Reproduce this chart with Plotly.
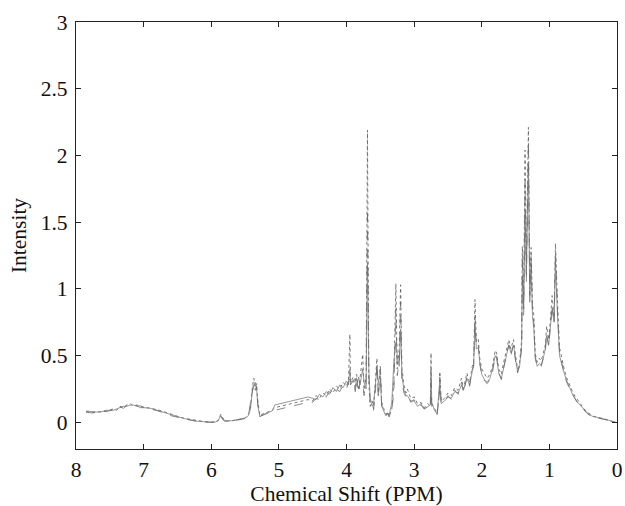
import plotly.graph_objects as go

ppm = [
    7.85, 7.75, 7.65, 7.55, 7.45, 7.40, 7.35, 7.30, 7.25, 7.20,
    7.15, 7.10, 7.05, 7.00, 6.90, 6.80, 6.70, 6.60, 6.50, 6.40,
    6.30, 6.20, 6.10, 6.00, 5.95, 5.90, 5.86, 5.83, 5.80, 5.70,
    5.60, 5.50, 5.45, 5.42, 5.39, 5.37, 5.35, 5.33, 5.31, 5.28,
    5.25, 5.20, 5.15, 5.10, 5.06, 4.57, 4.50, 4.45, 4.40, 4.35,
    4.30, 4.25, 4.20, 4.15, 4.10, 4.05, 4.00, 3.97, 3.95, 3.94,
    3.90, 3.87, 3.85, 3.82, 3.80, 3.76, 3.74, 3.71, 3.69, 3.67,
    3.65, 3.62, 3.60, 3.57, 3.55, 3.53, 3.50, 3.48, 3.45, 3.42,
    3.39, 3.37, 3.33, 3.30, 3.27, 3.25, 3.22, 3.20, 3.18, 3.15,
    3.12, 3.10, 3.05, 3.00, 2.95, 2.90, 2.85, 2.80, 2.76, 2.75,
    2.74, 2.70, 2.66, 2.63, 2.62, 2.60, 2.55, 2.50, 2.45, 2.40,
    2.35, 2.30, 2.27, 2.22, 2.18, 2.14, 2.12, 2.10, 2.08, 2.05,
    2.03, 2.00, 1.96, 1.92, 1.88, 1.84, 1.80, 1.78, 1.75, 1.71,
    1.68, 1.63, 1.60, 1.57, 1.53, 1.50, 1.47, 1.44, 1.41, 1.40,
    1.38, 1.36, 1.34, 1.31, 1.29, 1.27, 1.25, 1.23, 1.21, 1.18,
    1.15, 1.12, 1.09, 1.06, 1.04, 1.01, 0.98, 0.96, 0.93, 0.91,
    0.88, 0.85, 0.80, 0.75, 0.70, 0.65, 0.60, 0.55, 0.50, 0.45,
    0.40, 0.35, 0.30, 0.25, 0.20, 0.15, 0.10, 0.05, 0.02,
]

spectrum_1 = [
    0.08, 0.075, 0.08, 0.085, 0.10, 0.09, 0.12, 0.11, 0.13, 0.14,
    0.12, 0.13, 0.12, 0.115, 0.11, 0.095, 0.08, 0.06, 0.045, 0.03,
    0.02, 0.01, 0.005, 0.0, 0.003, 0.01, 0.06, 0.03, 0.01, 0.01,
    0.02, 0.03, 0.06, 0.12, 0.27, 0.33, 0.26, 0.29, 0.15, 0.05,
    0.06, 0.07, 0.08, 0.09, 0.11, 0.17, 0.16, 0.20, 0.18, 0.22,
    0.20, 0.25, 0.22, 0.27, 0.25, 0.30, 0.27, 0.32, 0.66, 0.30,
    0.34, 0.25, 0.36, 0.24, 0.33, 0.51, 0.22, 0.35, 2.19, 0.30,
    0.12, 0.16, 0.10, 0.35, 0.48, 0.20, 0.42, 0.15, 0.10, 0.06,
    0.08, 0.04, 0.10, 0.30, 1.04, 0.40, 0.55, 1.03, 0.40, 0.28,
    0.22, 0.25, 0.18, 0.19, 0.14, 0.15, 0.11, 0.14, 0.12, 0.52,
    0.14, 0.10, 0.07, 0.20, 0.38, 0.16, 0.18, 0.22, 0.20, 0.26,
    0.24, 0.33, 0.25, 0.37, 0.30, 0.42, 0.45, 0.92, 0.60, 0.62,
    0.48, 0.40, 0.36, 0.33, 0.36, 0.42, 0.54, 0.52, 0.40, 0.36,
    0.44, 0.55, 0.62, 0.55, 0.62, 0.50, 0.40, 0.45, 0.62, 1.32,
    0.90, 2.04, 1.20, 2.21, 1.00, 1.31, 0.88, 0.80, 0.52, 0.45,
    0.48, 0.46, 0.52, 0.58, 0.72, 0.62, 0.80, 0.95, 0.80, 1.34,
    0.90, 0.56, 0.44, 0.34, 0.28, 0.22, 0.18, 0.14, 0.11, 0.08,
    0.06, 0.045, 0.04, 0.035, 0.03, 0.02, 0.01, 0.005, 0.0,
]

spectrum_2 = [
    0.085, 0.08, 0.075, 0.09, 0.09, 0.10, 0.11, 0.12, 0.12, 0.13,
    0.13, 0.12, 0.125, 0.11, 0.105, 0.09, 0.075, 0.055, 0.04, 0.028,
    0.018, 0.008, 0.004, 0.002, 0.0, 0.012, 0.05, 0.025, 0.012, 0.012,
    0.022, 0.032, 0.05, 0.10, 0.24, 0.28, 0.30, 0.25, 0.12, 0.04,
    0.055, 0.065, 0.075, 0.085, 0.13, 0.19, 0.18, 0.17, 0.21, 0.19,
    0.23, 0.21, 0.26, 0.23, 0.28, 0.26, 0.31, 0.28, 0.40, 0.31,
    0.30, 0.33, 0.27, 0.34, 0.28, 0.40, 0.30, 0.25, 1.20, 0.40,
    0.18, 0.12, 0.14, 0.28, 0.40, 0.30, 0.35, 0.12, 0.08, 0.05,
    0.06, 0.05, 0.15, 0.45, 0.60, 0.50, 0.42, 0.70, 0.35, 0.24,
    0.20, 0.20, 0.16, 0.16, 0.12, 0.14, 0.10, 0.12, 0.13, 0.40,
    0.15, 0.09, 0.06, 0.25, 0.30, 0.14, 0.16, 0.19, 0.18, 0.23,
    0.22, 0.28, 0.24, 0.33, 0.28, 0.38, 0.42, 0.75, 0.55, 0.56,
    0.45, 0.36, 0.32, 0.30, 0.33, 0.40, 0.50, 0.48, 0.37, 0.33,
    0.40, 0.52, 0.58, 0.52, 0.58, 0.47, 0.38, 0.42, 0.58, 1.10,
    0.85, 1.60, 1.10, 1.95, 0.90, 1.20, 0.80, 0.70, 0.50, 0.42,
    0.44, 0.43, 0.48, 0.55, 0.65, 0.58, 0.72, 0.85, 0.75, 1.20,
    0.80, 0.50, 0.40, 0.32, 0.26, 0.20, 0.16, 0.13, 0.10, 0.075,
    0.055, 0.042, 0.038, 0.032, 0.028, 0.018, 0.012, 0.006, 0.002,
]

spectrum_3 = [
    0.075, 0.07, 0.085, 0.08, 0.095, 0.085, 0.115, 0.105, 0.125, 0.12,
    0.115, 0.125, 0.11, 0.11, 0.10, 0.088, 0.07, 0.05, 0.038, 0.025,
    0.015, 0.006, 0.002, 0.0, 0.004, 0.008, 0.045, 0.02, 0.008, 0.008,
    0.018, 0.028, 0.055, 0.14, 0.22, 0.30, 0.24, 0.27, 0.13, 0.045,
    0.05, 0.06, 0.07, 0.08, 0.09, 0.15, 0.15, 0.18, 0.17, 0.20,
    0.19, 0.23, 0.21, 0.25, 0.23, 0.28, 0.25, 0.30, 0.35, 0.28,
    0.32, 0.23, 0.33, 0.22, 0.31, 0.30, 0.20, 0.30, 1.60, 0.35,
    0.15, 0.14, 0.09, 0.25, 0.45, 0.18, 0.40, 0.13, 0.09, 0.05,
    0.07, 0.04, 0.09, 0.22, 0.85, 0.35, 0.45, 0.90, 0.30, 0.22,
    0.19, 0.21, 0.15, 0.17, 0.12, 0.13, 0.10, 0.12, 0.11, 0.30,
    0.12, 0.08, 0.06, 0.18, 0.34, 0.14, 0.15, 0.20, 0.17, 0.24,
    0.21, 0.30, 0.22, 0.34, 0.27, 0.40, 0.42, 0.80, 0.56, 0.58,
    0.44, 0.36, 0.31, 0.29, 0.32, 0.38, 0.50, 0.50, 0.37, 0.32,
    0.40, 0.50, 0.58, 0.50, 0.58, 0.46, 0.37, 0.43, 0.55, 1.25,
    0.80, 1.80, 1.05, 2.10, 0.95, 1.25, 0.82, 0.75, 0.48, 0.42,
    0.44, 0.42, 0.48, 0.54, 0.66, 0.57, 0.75, 0.88, 0.74, 1.28,
    0.85, 0.52, 0.41, 0.31, 0.25, 0.20, 0.16, 0.12, 0.10, 0.07,
    0.05, 0.04, 0.035, 0.03, 0.026, 0.017, 0.009, 0.004, 0.0,
]

x_ticks = [8, 7, 6, 5, 4, 3, 2, 1, 0]
y_ticks = [0, 0.5, 1, 1.5, 2, 2.5, 3]
y_tick_text = ["0", "0.5", "1", "1.5", "2", "2.5", "3"]

font = "Liberation Serif, Times New Roman, serif"
FS = 21.5

fig = go.Figure()
styles = [
    ("#555555", 0.8, "dot"),
    ("#7d7d7d", 0.8, "solid"),
    ("#6a6a6a", 0.8, "dash"),
]
for ys, (col, w, dash) in zip([spectrum_1, spectrum_2, spectrum_3], styles):
    n = min(len(ppm), len(ys))
    fig.add_trace(go.Scatter(
        x=ppm[:n], y=ys[:n], mode="lines",
        line=dict(color=col, width=w, dash=dash),
        showlegend=False, hoverinfo="skip",
    ))

axis_common = dict(
    showline=True, linecolor="#222", linewidth=1.2, mirror="ticks",
    ticks="inside", ticklen=5, tickcolor="#222", tickwidth=1,
    showgrid=False, zeroline=False, automargin=False,
    ticklabeloverflow="allow",
    tickfont=dict(family=font, size=FS, color="#111"),
)

fig.update_layout(
    width=625, height=506,
    margin=dict(l=76, r=8, t=22, b=57),
    paper_bgcolor="white", plot_bgcolor="white",
    xaxis=dict(
        range=[8, 0], tickvals=x_ticks, ticktext=[str(v) for v in x_ticks],
        ticklabelstandoff=1,
        title=dict(text="Chemical Shift (PPM)", font=dict(family=font, size=FS, color="#111"), standoff=8),
        **axis_common,
    ),
    yaxis=dict(
        range=[-0.2, 3], tickvals=y_ticks, ticktext=y_tick_text,
        ticklabelstandoff=3,
        title=dict(text="Intensity", font=dict(family=font, size=FS, color="#111"), standoff=8),
        **axis_common,
    ),
)

fig.write_html(
    "out.html",
    config={"displayModeBar": False},
    post_script="document.body.style.margin='0';document.body.style.overflow='hidden';",
)
